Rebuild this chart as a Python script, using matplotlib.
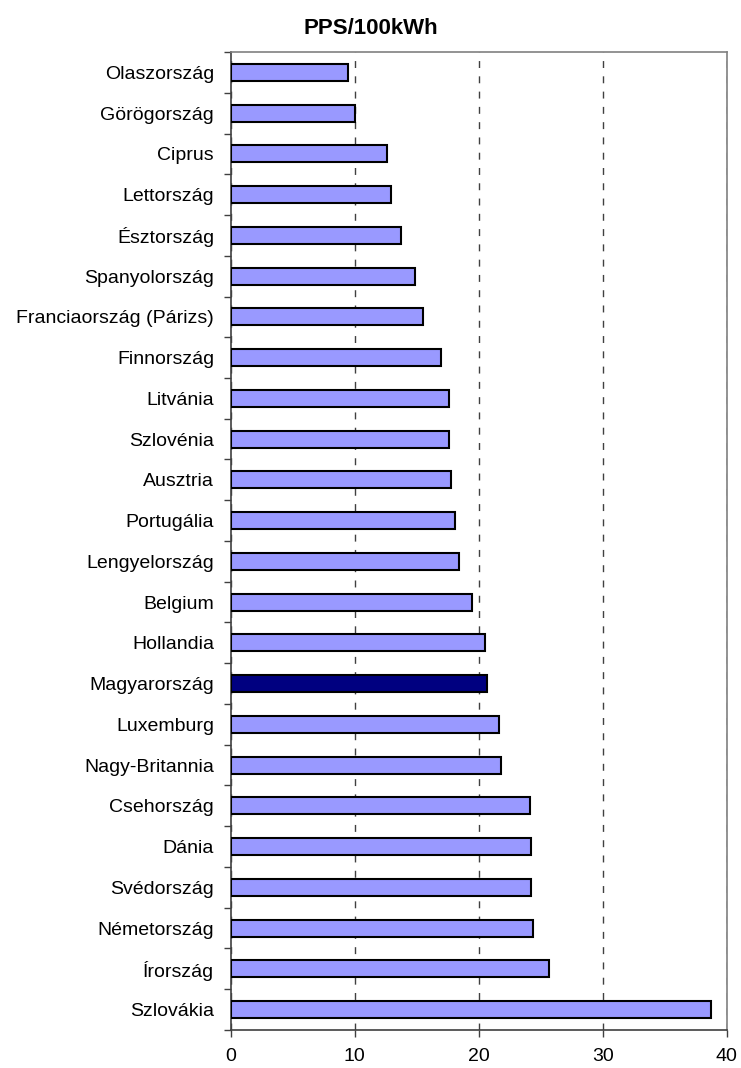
import matplotlib.pyplot as plt

plt.rcParams['font.family'] = ['Liberation Sans', 'DejaVu Sans']

# Országok fentről lefelé, ahogy az ábrán
orszagok = ['Olaszország', 'Görögország', 'Ciprus', 'Lettország', 'Észtország',
            'Spanyolország', 'Franciaország (Párizs)', 'Finnország', 'Litvánia',
            'Szlovénia', 'Ausztria', 'Portugália', 'Lengyelország', 'Belgium',
            'Hollandia', 'Magyarország', 'Luxemburg', 'Nagy-Britannia',
            'Csehország', 'Dánia', 'Svédország', 'Németország', 'Írország',
            'Szlovákia']
ertekek = [9.5, 10.0, 12.6, 12.9, 13.7, 14.9, 15.5, 17.0, 17.6, 17.6, 17.8,
           18.1, 18.4, 19.5, 20.5, 20.7, 21.6, 21.8, 24.1, 24.2, 24.2, 24.4,
           25.7, 38.7]
kiemelt = 'Magyarország'
x_tickek = [0, 10, 20, 30, 40]

szinek = ['#000080' if o == kiemelt else '#9999FF' for o in orszagok]
n = len(orszagok)
pozicio = list(range(n))

fig = plt.figure(figsize=(7.41, 10.68), dpi=100)
ax = fig.add_axes([0.3113, 0.0356, 0.6694, 0.9157])

ax.barh(pozicio, ertekek, height=0.42, color=szinek, edgecolor='black',
        linewidth=1.5, zorder=3)

ax.set_xlim(0, 40)
ax.set_ylim(n - 0.5, -0.5)
ax.set_xticks(x_tickek)
ax.set_xticklabels([str(v) for v in x_tickek], fontsize=14)

# kategóriák nevei középen, tickek a határokon
ax.set_yticks(pozicio)
ax.set_yticklabels(orszagok, fontsize=14)
ax.tick_params(axis='y', which='major', length=0, pad=12)
ax.set_yticks([i - 0.5 for i in range(n + 1)], minor=True)
ax.tick_params(axis='y', which='minor', length=5, width=1, color='#404040')
ax.tick_params(axis='x', length=5, width=1, color='#404040', pad=8)

ax.xaxis.grid(True, linestyle=(0, (5, 6)), color='#404040', linewidth=1,
              zorder=0)

ax.spines['left'].set_color('#404040')
ax.spines['bottom'].set_color('#404040')
ax.spines['top'].set_color('#808080')
ax.spines['right'].set_color('#808080')
for s in ax.spines.values():
    s.set_linewidth(1.2)

fig.text(0.501, 1 - 29 / 1068, 'PPS/100kWh', ha='center', va='center',
         fontsize=16, fontweight='bold')

fig.savefig('out.png', dpi=100)
